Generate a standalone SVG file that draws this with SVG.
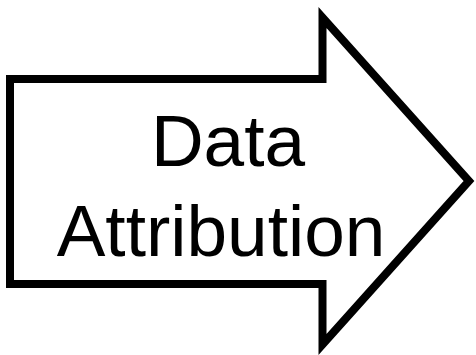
<svg xmlns="http://www.w3.org/2000/svg" width="476" height="355" viewBox="0 0 476 355">
  <style>
    .arrow { fill: #ffffff; stroke: #000000; stroke-width: 8; stroke-linejoin: miter; stroke-miterlimit: 10; }
    .label { font-family: "Liberation Sans", Arial, sans-serif; font-size: 73px; fill: #000000; text-anchor: middle; }
  </style>
  <rect width="476" height="355" fill="#ffffff"/>
  <g id="arrow-node">
    <path class="arrow" d="M10 79 H322.5 V17.5 L469 181 L322.5 344.5 V284 H10 Z"/>
    <text class="label" x="228" y="166">Data</text>
    <text class="label" x="221" y="256">Attribution</text>
  </g>
</svg>
